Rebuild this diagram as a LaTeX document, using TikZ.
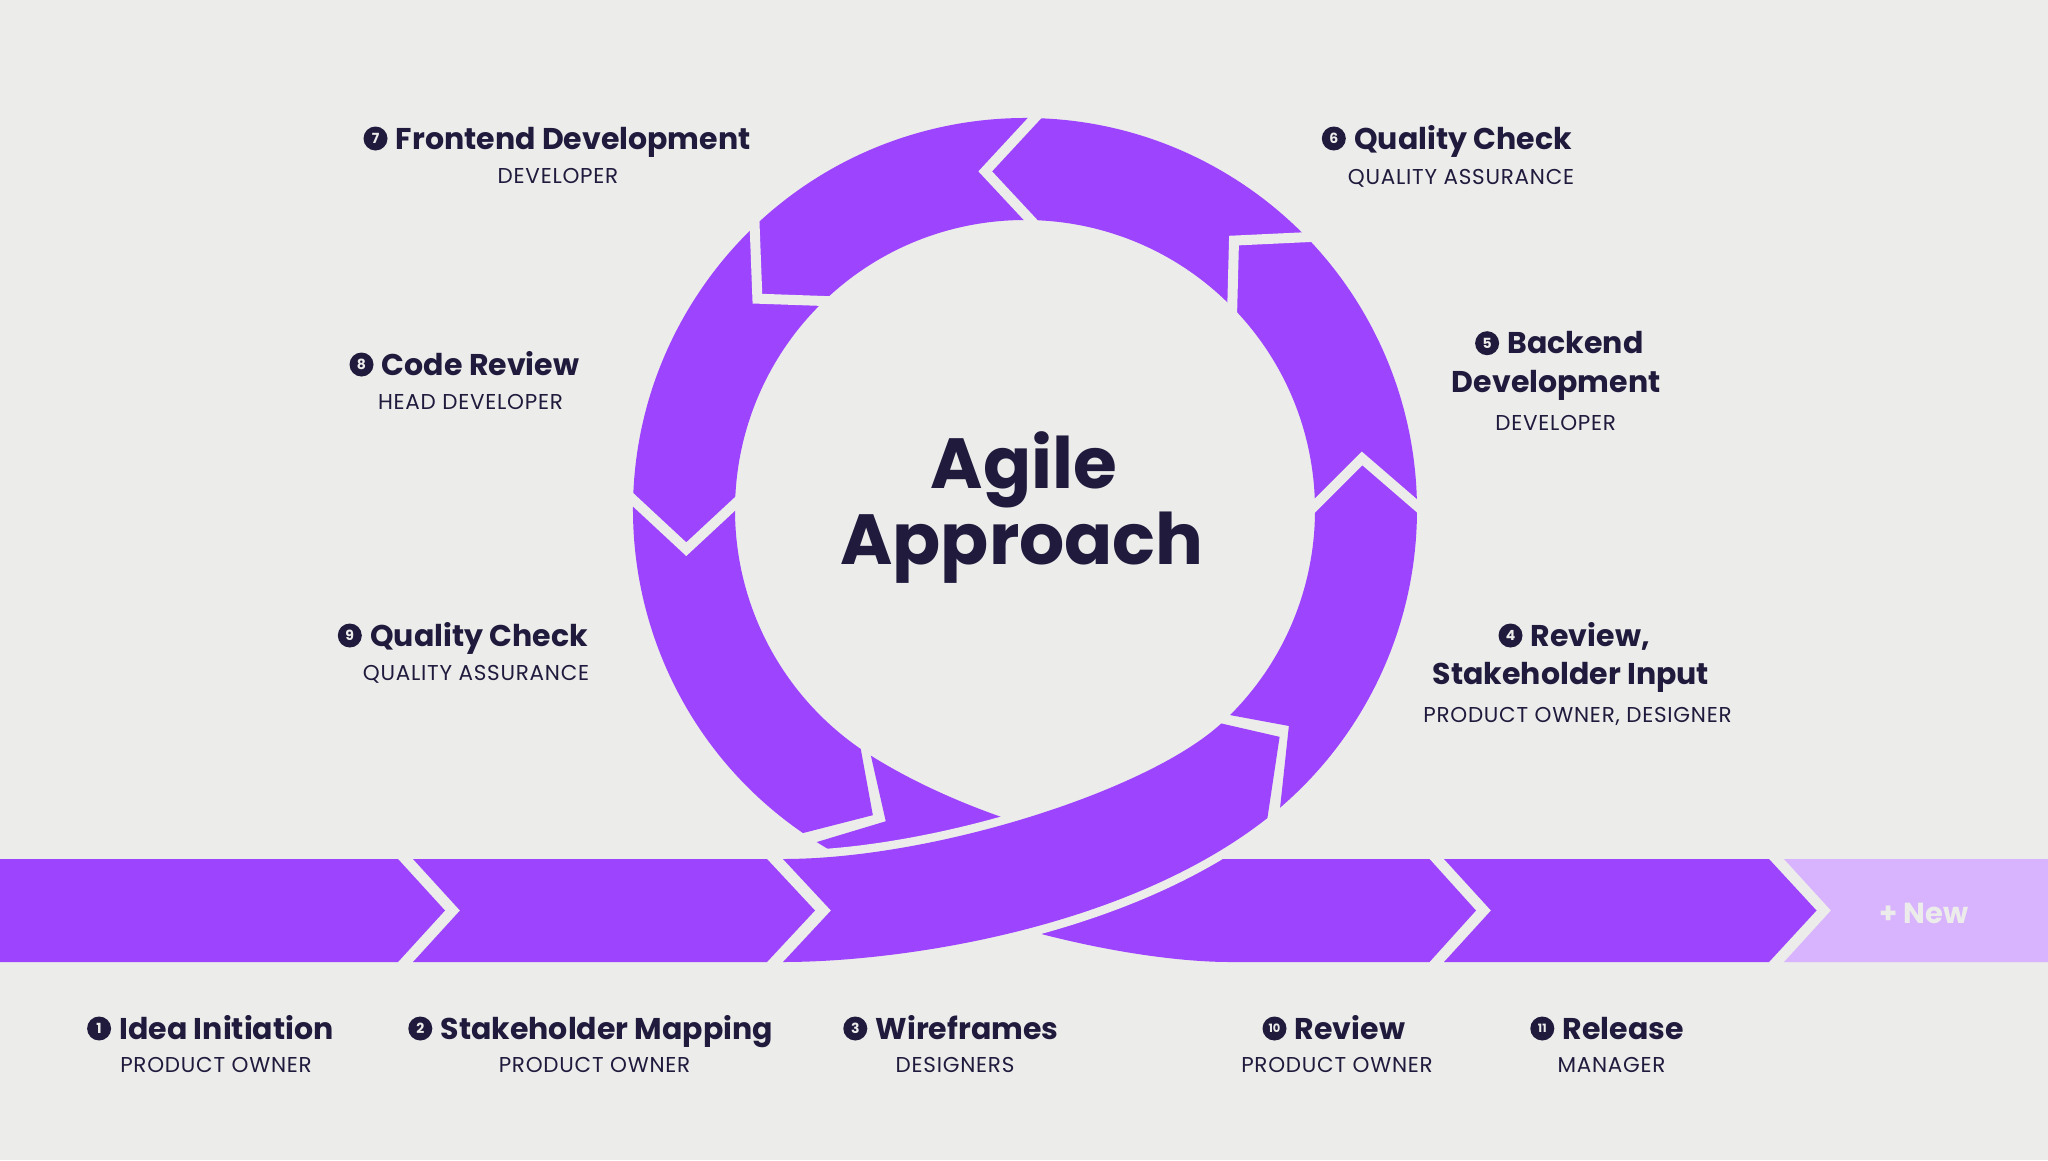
\documentclass[tikz,border=0pt]{standalone}
\usepackage{fontspec}
\setmainfont{Poppins}
\usepackage{tikz}
\usetikzlibrary{positioning, calc}
\definecolor{bgpaper}{RGB}{236,236,234}
\definecolor{ribbon}{RGB}{157,68,255}
\definecolor{ribbonlight}{RGB}{216,180,254}
\definecolor{ink}{RGB}{32,26,61}
\tikzset{
	seg/.style={fill=ribbon},
	newseg/.style={fill=ribbonlight},
	gapline/.style={draw=bgpaper, line width=10pt, line cap=rect, line join=miter},
	underlay/.style={draw=bgpaper, line width=17pt},
	head/.style={font=\fontsize{30}{36}\selectfont\bfseries, text=ink, inner sep=0pt, anchor=base west},
	headc/.style={head, anchor=base},
	role/.style={font=\fontsize{21.5}{26}\selectfont\addfontfeatures{LetterSpace=3.5}, text=ink, inner sep=0pt, anchor=base},
	badge/.style={circle, fill=ink, text=bgpaper, minimum size=24pt, inner sep=0pt,
		font=\fontsize{14}{14}\selectfont\bfseries},
	badgetwo/.style={badge, font=\fontsize{11.5}{11.5}\selectfont\bfseries},
	title/.style={font=\fontsize{71}{71}\selectfont\bfseries, text=ink, inner sep=0pt, anchor=base},
	newlabel/.style={font=\fontsize{29}{34}\selectfont\bfseries, text=bgpaper, inner sep=0pt, anchor=base},
}

\begin{document}
\begin{tikzpicture}[x=1pt, y=-1pt]
	\useasboundingbox (0,0) rectangle (2048,1160);
	\fill[bgpaper] (0,0) rectangle (2048,1160);

	% straight band
	\fill[seg] (0,859) -- (398,859) -- (445,910.5) -- (398,962) -- (0,962) -- cycle;
	\fill[seg] (413,859) -- (767,859) -- (815,910.5) -- (767,962) -- (413,962) -- (460,910.5) -- cycle;
	\fill[seg] (1444,859) -- (1769,859) -- (1816.5,910.5) -- (1769,962) -- (1444,962) -- (1491,910.5) -- cycle;
	\fill[newseg] (1784,859) -- (2048,859) -- (2048,962) -- (1784,962) -- (1831,910.5) -- cycle;
	\node[newlabel] (new) at (1924,923) {+ New};

	% the loop
	\begin{scope}[shift={(1025,510)}]
		\coordinate (hub) at (0,0);
		\coordinate (s3i) at (47.4:290);
		\coordinate (s3t) at (41.7:341);
		\coordinate (s3o) at (51.8:392);
		\coordinate (s10o) at (122.1:392);
		\coordinate (s10n) at (114.1:341);
		\coordinate (s10i) at (122.1:290);
		\fill[seg] (49.4:392) -- (39.3:341) -- (45:290)
			arc[start angle=45, end angle=-235.5, radius=290]
			-- (-243.5:341) -- (-235.5:392)
			arc[start angle=-235.5, end angle=49.4, radius=392] -- cycle;
		\foreach \a in {0.5,-43,-87.5,-132.5,-177.4}
			\draw[gapline] ({\a-0.6}:396) -- ({\a-9.2}:341) -- ({\a-0.6}:286);
	\end{scope}

	% review segment leaves the loop and joins the band
	\fill[seg] (s10o) -- (s10n) -- (s10i) .. controls (972.5,819.4) and (1120,859) .. (1220,859)
		-- (1429.5,859) -- (1476,910.5) -- (1429.5,962) -- (1230,962)
		.. controls (1130,962) and (943.8,921.8) .. (s10o) -- cycle;

	% wireframes segment crosses over
	\draw[underlay] (783,859) .. controls (933,859) and (1147.7,791.1) .. (s3i);
	\draw[underlay] (783,962) .. controls (900,962) and (1125.9,929.3) .. (s3o);
	\fill[seg] (783,859) .. controls (933,859) and (1147.7,791.1) .. (s3i) -- (s3t) -- (s3o)
		.. controls (1125.9,929.3) and (900,962) .. (783,962) -- (831,910.5) -- cycle;

	\node[title] (agile) at (1024,488) {Agile};
	\node[title] (approach) at (1022,564) {Approach};

	% labels round the loop
	\node[head] (h7) at (395.7,149) {Frontend Development};
	\node[badge, left=8pt of h7.base west, yshift=10.5pt] (b7) {7};
	\node[role] (r7) at (558,183.4) {DEVELOPER};

	\node[head] (h6) at (1354,149) {Quality Check};
	\node[badge, left=8pt of h6.base west, yshift=10.5pt] (b6) {6};
	\node[role] (r6) at (1461,184) {QUALITY ASSURANCE};

	\node[head] (h8) at (381.7,375) {Code Review};
	\node[badge, left=8pt of h8.base west, yshift=10.5pt] (b8) {8};
	\node[role] (r8) at (470.5,409.2) {HEAD DEVELOPER};

	\node[head] (h5) at (1507.3,353.7) {Backend};
	\node[badge, left=8pt of h5.base west, yshift=10.5pt] (b5) {5};
	\node[headc] (h5b) at (1556.2,392.3) {Development};
	\node[role] (r5) at (1555.7,430.4) {DEVELOPER};

	\node[head] (h9) at (370,646) {Quality Check};
	\node[badge, left=8pt of h9.base west, yshift=10.5pt] (b9) {9};
	\node[role] (r9) at (476,680.6) {QUALITY ASSURANCE};

	\node[head] (h4) at (1530.7,646) {Review,};
	\node[badge, left=8pt of h4.base west, yshift=10.5pt] (b4) {4};
	\node[headc] (h4b) at (1571,684.6) {Stakeholder Input};
	\node[role] (r4) at (1577.5,722.7) {PRODUCT OWNER, DESIGNER};

	% labels under the band
	\node[head] (h1) at (119.3,1039) {Idea Initiation};
	\node[badge, left=8pt of h1.base west, yshift=10.5pt] (b1) {1};
	\node[role] (r1) at (216,1072.7) {PRODUCT OWNER};

	\node[head] (h2) at (440.5,1039) {Stakeholder Mapping};
	\node[badge, left=8pt of h2.base west, yshift=10.5pt] (b2) {2};
	\node[role] (r2) at (594.5,1072.7) {PRODUCT OWNER};

	\node[head] (h3) at (875.5,1039) {Wireframes};
	\node[badge, left=8pt of h3.base west, yshift=10.5pt] (b3) {3};
	\node[role] (r3) at (955,1072.7) {DESIGNERS};

	\node[head] (h10) at (1294.7,1039) {Review};
	\node[badgetwo, left=8pt of h10.base west, yshift=10.5pt] (b10) {10};
	\node[role] (r10) at (1337,1072.7) {PRODUCT OWNER};

	\node[head] (h11) at (1562.5,1039) {Release};
	\node[badgetwo, left=8pt of h11.base west, yshift=10.5pt] (b11) {11};
	\node[role] (r11) at (1611.5,1072.7) {MANAGER};
\end{tikzpicture}
\end{document}
